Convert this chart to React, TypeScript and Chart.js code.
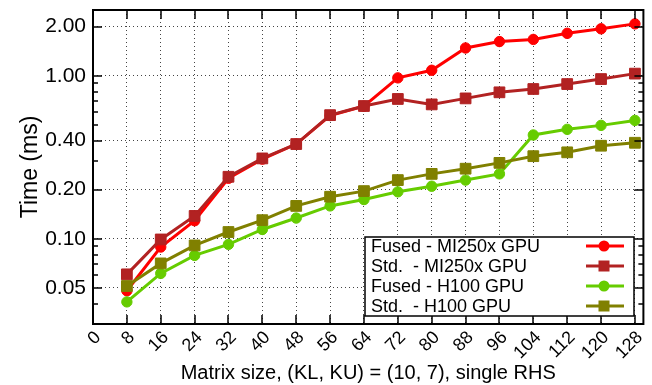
import React, { useEffect, useRef } from 'react';
import { Chart, registerables } from 'chart.js';
Chart.register(...registerables);

const xValues = [8, 16, 24, 32, 40, 48, 56, 64, 72, 80, 88, 96, 104, 112, 120, 128];
const fusedMI250x = [0.048, 0.089, 0.129, 0.235, 0.308, 0.381, 0.57, 0.65, 0.97, 1.08, 1.48, 1.62, 1.67, 1.82, 1.94, 2.08];
const stdMI250x = [0.0605, 0.099, 0.138, 0.24, 0.311, 0.381, 0.573, 0.652, 0.72, 0.667, 0.726, 0.791, 0.829, 0.889, 0.954, 1.03];
const fusedH100 = [0.041, 0.0613, 0.079, 0.0924, 0.114, 0.134, 0.159, 0.174, 0.194, 0.21, 0.229, 0.25, 0.433, 0.469, 0.496, 0.532];
const stdH100 = [0.0513, 0.0706, 0.091, 0.11, 0.13, 0.159, 0.181, 0.196, 0.229, 0.25, 0.269, 0.292, 0.321, 0.339, 0.372, 0.388];

const seriesLabels = ['Fused - MI250x GPU', 'Std.  - MI250x GPU', 'Fused - H100 GPU', 'Std.  - H100 GPU'];
const seriesColors = ['#ff0000', '#b22222', '#66cc00', '#808000'];
const seriesStyles = ['circle', 'rect', 'circle', 'rect'];

const xTicks = [0, 8, 16, 24, 32, 40, 48, 56, 64, 72, 80, 88, 96, 104, 112, 120, 128];
const yMajorTicks = [0.05, 0.1, 0.2, 0.4, 1, 2];
const yMinorTicks = [0.03, 0.04, 0.06, 0.07, 0.08, 0.09, 0.3, 0.5, 0.6, 0.7, 0.8, 0.9];

const xTitle = 'Matrix size, (KL, KU) = (10, 7), single RHS';
const yTitle = 'Time (ms)';

const FONT = '"Liberation Sans", Arial, Helvetica, sans-serif';

function drawMarker(ctx: CanvasRenderingContext2D, style: string, x: number, y: number, color: string) {
  ctx.fillStyle = color;
  if (style === 'circle') {
    ctx.beginPath();
    ctx.arc(x, y, 5.5, 0, Math.PI * 2);
    ctx.fill();
  } else {
    ctx.fillRect(x - 5.5, y - 5.5, 11, 11);
  }
}

const framePlugin = {
  id: 'frameAndLegend',
  afterDatasetsDraw(chart: any) {
    const { ctx, chartArea } = chart;
    const { left, right, top, bottom } = chartArea;
    const xs = chart.scales.x;
    const ys = chart.scales.y;
    ctx.save();
    ctx.strokeStyle = '#000';
    ctx.lineWidth = 1.5;
    ctx.setLineDash([]);
    ctx.beginPath();
    for (const v of xTicks) {
      const px = Math.round(xs.getPixelForValue(v));
      ctx.moveTo(px, top); ctx.lineTo(px, top + 9);
      ctx.moveTo(px, bottom); ctx.lineTo(px, bottom - 9);
    }
    for (const v of yMajorTicks) {
      const py = Math.round(ys.getPixelForValue(v));
      ctx.moveTo(left, py); ctx.lineTo(left + 9, py);
      ctx.moveTo(right, py); ctx.lineTo(right - 9, py);
    }
    for (const v of yMinorTicks) {
      const py = Math.round(ys.getPixelForValue(v));
      ctx.moveTo(left, py); ctx.lineTo(left + 5, py);
      ctx.moveTo(right, py); ctx.lineTo(right - 5, py);
    }
    ctx.stroke();
    ctx.lineWidth = 2;
    ctx.strokeRect(left, top, right - left, bottom - top);

    // legend
    const lx = 365, ly = 237, lw = 269, lh = 79;
    ctx.fillStyle = '#fff';
    ctx.fillRect(lx, ly, lw, lh);
    ctx.lineWidth = 1.5;
    ctx.strokeStyle = '#000';
    ctx.strokeRect(lx, ly, lw, lh);
    ctx.font = `18px ${FONT}`;
    ctx.textBaseline = 'middle';
    ctx.textAlign = 'left';
    seriesLabels.forEach((label, i) => {
      const cy = 246 + i * 20;
      ctx.fillStyle = '#000';
      ctx.fillText(label, 371, cy + 1);
      ctx.strokeStyle = seriesColors[i];
      ctx.lineWidth = 3;
      ctx.beginPath();
      ctx.moveTo(586, cy);
      ctx.lineTo(624, cy);
      ctx.stroke();
      drawMarker(ctx, seriesStyles[i], 604, cy, seriesColors[i]);
    });
    ctx.restore();
  },
};

export default function App() {
  const ref = useRef<HTMLCanvasElement | null>(null);
  useEffect(() => {
    if (!ref.current) return;
    const series = [fusedMI250x, stdMI250x, fusedH100, stdH100];
    const chart = new Chart(ref.current, {
      type: 'line',
      data: {
        datasets: series.map((vals, i) => ({
          label: seriesLabels[i],
          data: vals.map((v, j) => ({ x: xValues[j], y: v })),
          borderColor: seriesColors[i],
          backgroundColor: seriesColors[i],
          pointBackgroundColor: seriesColors[i],
          pointBorderColor: seriesColors[i],
          pointStyle: seriesStyles[i],
          pointRadius: seriesStyles[i] === 'rect' ? 7.6 : 5.2,
          pointBorderWidth: 1,
          borderWidth: 3,
          tension: 0,
          fill: false,
          order: 4 - i,
        })),
      },
      options: {
        animation: false,
        responsive: false,
        devicePixelRatio: 1,
        layout: { padding: { left: 0, right: 7, top: 10, bottom: 0 } },
        plugins: { legend: { display: false }, tooltip: { enabled: false } },
        scales: {
          x: {
            type: 'linear',
            min: 0,
            max: 130,
            afterBuildTicks: (scale: any) => { scale.ticks = xTicks.map((v) => ({ value: v })); },
            afterFit: (scale: any) => { scale.height = 61; scale.paddingLeft = 0; scale.paddingRight = 0; },
            grid: { color: '#444', lineWidth: 1, drawTicks: false },
            border: { display: false, dash: [1, 3] },
            ticks: {
              autoSkip: false,
              minRotation: 45,
              maxRotation: 45,
              padding: 3,
              labelOffset: 5,
              color: '#000',
              font: { family: FONT, size: 18, lineHeight: 1.2 },
              callback: (v: any) => String(v),
            },
            title: {
              display: true,
              text: xTitle,
              color: '#000',
              font: { family: FONT, size: 20, lineHeight: 1.2 },
              padding: { top: 0, bottom: 0 },
            },
          },
          y: {
            type: 'logarithmic',
            min: 0.03,
            max: 2.53,
            afterBuildTicks: (scale: any) => { scale.ticks = yMajorTicks.map((v) => ({ value: v })); },
            afterFit: (scale: any) => { scale.width = 93; scale.paddingTop = 0; scale.paddingBottom = 0; },
            grid: { color: '#444', lineWidth: 1, drawTicks: false },
            border: { display: false, dash: [1, 3] },
            ticks: {
              autoSkip: false,
              padding: 7,
              color: '#000',
              font: { family: FONT, size: 21 },
              callback: (v: any) => Number(v).toFixed(2),
            },
            title: {
              display: true,
              text: yTitle,
              color: '#000',
              font: { family: FONT, size: 23, lineHeight: 1.2 },
              padding: { top: 17, bottom: 0 },
            },
          },
        },
      },
      plugins: [framePlugin],
    } as any);
    return () => chart.destroy();
  }, []);
  return (
    <div style={{ position: 'fixed', left: 0, top: 0, width: 652, height: 385, background: '#fff' }}>
      <canvas ref={ref} width={652} height={385} style={{ display: 'block', width: 652, height: 385 }} />
    </div>
  );
}
